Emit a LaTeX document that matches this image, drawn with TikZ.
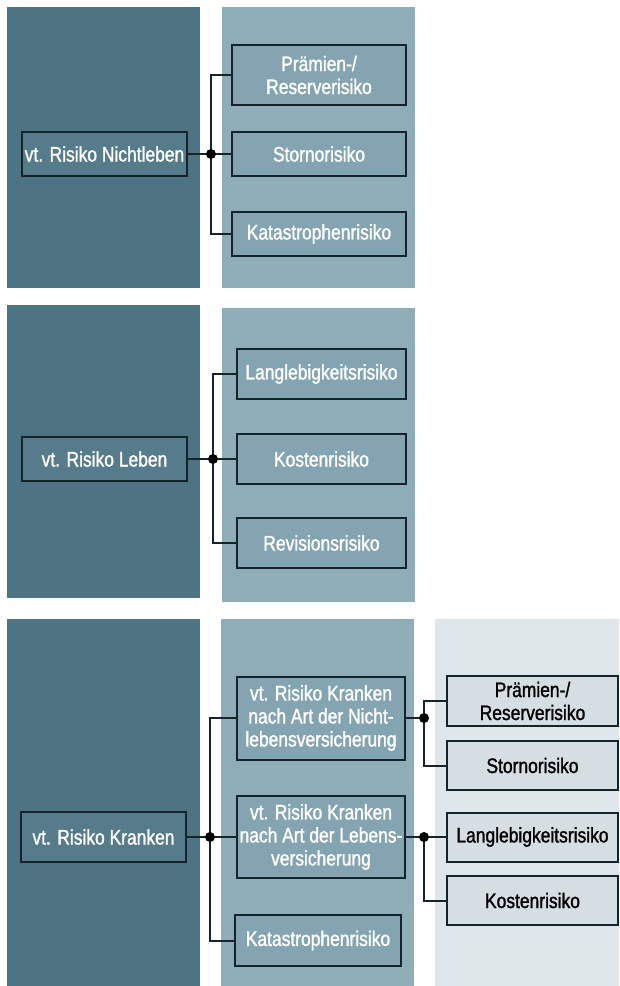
\documentclass[tikz,border=0pt]{standalone}
\usepackage{fontspec}
\setmainfont{Liberation Sans}[FakeStretch=0.83, FakeBold=1.3]
\usepackage{tikz}
\usetikzlibrary{positioning}
\definecolor{colDark}{HTML}{4E7484}
\definecolor{colMid}{HTML}{8FADB9}
\definecolor{colPale}{HTML}{DFE6E9}
\definecolor{boxDark}{HTML}{567B8A}
\definecolor{boxMid}{HTML}{84A4B1}
\definecolor{boxPale}{HTML}{D5DFE3}
\definecolor{boxLine}{HTML}{15232A}
\tikzset{
risk/.style = { rectangle, draw = boxLine, line width = 2pt, inner sep = 0pt, align = center, font = \fontsize{21}{23}\selectfont },
dark risk/.style = { risk, fill = boxDark, text = white },
mid risk/.style = { risk, fill = boxMid, text = white },
pale risk/.style = { risk, fill = boxPale, text = black },
link/.style = { draw = boxLine, line width = 2pt },
hub/.style = { fill = black },
}

\begin{document}
\begin{tikzpicture}[x = 1pt, y = -1pt]
    \useasboundingbox (0, 0) rectangle (619, 986);
    % columns
    \fill[colDark] (7, 7) rectangle (200, 288);
    \fill[colMid] (222, 7) rectangle (415, 288);
    \fill[colDark] (7, 305) rectangle (200, 598);
    \fill[colMid] (222, 308) rectangle (415, 602);
    \fill[colDark] (7, 619) rectangle (200, 986);
    \fill[colMid] (221, 619) rectangle (414, 986);
    \fill[colPale] (435, 619) rectangle (619, 986);
    % Nichtleben
    \node[dark risk, minimum width = 165pt, minimum height = 44pt] (nl) at (104.5, 154) {vt. Risiko Nichtleben};
    \node[mid risk, minimum width = 174pt, minimum height = 60pt] (nl1) at (319, 75) {Prämien-/\\Reserverisiko};
    \node[mid risk, minimum width = 174pt, minimum height = 44pt] (nl2) at (319, 154) {Stornorisiko};
    \node[mid risk, minimum width = 174pt, minimum height = 44pt] (nl3) at (319, 234) {Katastrophenrisiko};
    \coordinate (nlhub) at (211, 154);
    \draw[link] (nl.east) -- (nlhub);
    \draw[link] (nlhub) |- (nl1.west);
    \draw[link] (nlhub) -- (nl2.west);
    \draw[link] (nlhub) |- (nl3.west);
    \fill[hub] (nlhub) circle [radius = 5pt];
    % Leben
    \node[dark risk, minimum width = 165pt, minimum height = 44pt] (lb) at (104.5, 459) {vt. Risiko Leben};
    \node[mid risk, minimum width = 169pt, minimum height = 50pt] (lb1) at (321.5, 374) {Langlebigkeitsrisiko};
    \node[mid risk, minimum width = 169pt, minimum height = 50pt] (lb2) at (321.5, 459) {Kostenrisiko};
    \node[mid risk, minimum width = 169pt, minimum height = 50pt] (lb3) at (321.5, 543) {Revisionsrisiko};
    \coordinate (lbhub) at (213, 459);
    \draw[link] (lb.east) -- (lbhub);
    \draw[link] (lbhub) |- (lb1.west);
    \draw[link] (lbhub) -- (lb2.west);
    \draw[link] (lbhub) |- (lb3.west);
    \fill[hub] (lbhub) circle [radius = 5pt];
    % Kranken
    \node[dark risk, minimum width = 165pt, minimum height = 50pt] (kr) at (103.5, 837) {vt. Risiko Kranken};
    \node[mid risk, minimum width = 168pt, minimum height = 83pt] (krnl) at (321, 718) {vt. Risiko Kranken\\nach Art der Nicht-\\lebensversicherung};
    \node[mid risk, minimum width = 168pt, minimum height = 82pt] (krlb) at (321, 837) {vt. Risiko Kranken\\nach Art der Lebens-\\versicherung};
    \node[mid risk, minimum width = 166pt, minimum height = 51pt] (krkat) at (318, 940.5) {Katastrophenrisiko};
    \node[pale risk, minimum width = 171pt, minimum height = 50pt] (krnl1) at (532.5, 701) {Prämien-/\\Reserverisiko};
    \node[pale risk, minimum width = 171pt, minimum height = 49pt] (krnl2) at (532.5, 765.5) {Stornorisiko};
    \node[pale risk, minimum width = 171pt, minimum height = 49pt] (krlb1) at (532.5, 837) {Langlebigkeitsrisiko};
    \node[pale risk, minimum width = 171pt, minimum height = 49pt] (krlb2) at (532.5, 900.5) {Kostenrisiko};
    \coordinate (krhub) at (210, 837);
    \coordinate (krnlhub) at (424, 718);
    \coordinate (krlbhub) at (424, 837);
    \draw[link] (kr.east) -- (krhub);
    \draw[link] (krhub) |- (krnl.west);
    \draw[link] (krhub) -- (krlb.west);
    \draw[link] (krhub) |- (krkat.west);
    \draw[link] (krnl.east) -- (krnlhub);
    \draw[link] (krnlhub) |- (krnl1.west);
    \draw[link] (krnlhub) |- (krnl2.west);
    \draw[link] (krlb.east) -- (krlbhub);
    \draw[link] (krlbhub) -- (krlb1.west);
    \draw[link] (krlbhub) |- (krlb2.west);
    \fill[hub] (krhub) circle [radius = 5pt];
    \fill[hub] (krnlhub) circle [radius = 5pt];
    \fill[hub] (krlbhub) circle [radius = 5pt];
\end{tikzpicture}
\end{document}
